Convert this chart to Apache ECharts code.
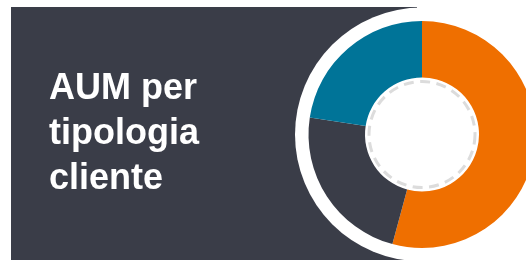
<!DOCTYPE html>
<html lang="it">
<head>
    <meta charset="UTF-8">
    <script src="https://cdn.jsdelivr.net/npm/echarts@6/dist/echarts.min.js"></script>
    <title>AUM per tipologia cliente</title>
    <style>
        html, body { margin: 0; padding: 0; background: #fff; }
        #chart { width: 526px; height: 262px; }
    </style>
</head>
<body>
<div id="chart"></div>
<script type="text/javascript">
    // dati (% AUM)
    var categorie = ['Cliente A', 'Cliente B', 'Cliente C'];
    var valori = [54.2, 23.2, 22.6];
    var colori = ['#ef6f00', '#3a3d48', '#007498'];

    var myChart = echarts.init(document.getElementById('chart'));
    var cx = 422, cy = 134.5;

    var option = {
        animation: false,
        graphic: [
            {
                type: 'rect',
                z: 0,
                shape: { x: 11, y: 7, width: 406, height: 253 },
                style: { fill: '#3a3d48' }
            },
            {
                type: 'circle',
                z: 1,
                shape: { cx: cx, cy: cy, r: 127 },
                style: { fill: '#ffffff' }
            },
            {
                type: 'circle',
                z: 10,
                shape: { cx: cx, cy: cy, r: 53 },
                style: { fill: null, stroke: '#dcdcdc', lineWidth: 3, lineDash: [10, 6.5] }
            },
            {
                type: 'text',
                z: 10,
                x: 49,
                y: 67,
                style: {
                    text: 'AUM per\ntipologia\ncliente',
                    fill: '#ffffff',
                    font: 'bold 36px "Liberation Sans", Arial, sans-serif',
                    lineHeight: 45,
                    verticalAlign: 'top'
                }
            }
        ],
        series: [
            {
                type: 'pie',
                z: 5,
                center: [cx, cy],
                radius: [57, 113.5],
                startAngle: 90,
                clockwise: true,
                silent: true,
                label: { show: false },
                labelLine: { show: false },
                itemStyle: { borderWidth: 0 },
                data: categorie.map(function (c, i) {
                    return { name: c, value: valori[i], itemStyle: { color: colori[i] } };
                })
            }
        ]
    };
    myChart.setOption(option);
</script>
</body>
</html>
